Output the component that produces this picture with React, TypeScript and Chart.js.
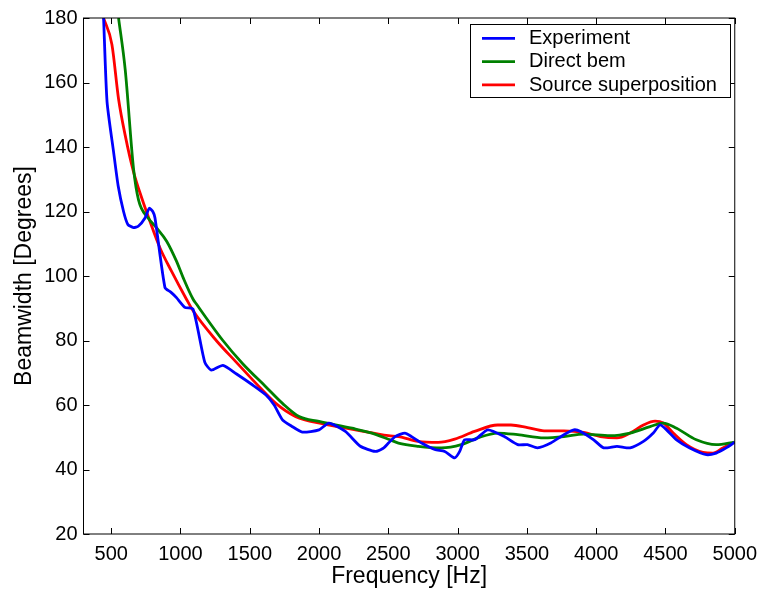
import React, { useEffect, useRef } from "react";
import { Chart, registerables } from "chart.js";

Chart.register(...registerables);

const xTicks = [500, 1000, 1500, 2000, 2500, 3000, 3500, 4000, 4500, 5000];
const yTicks = [20, 40, 60, 80, 100, 120, 140, 160, 180];

const expFreq = [445, 470, 517, 550, 589, 620, 661, 697, 744, 775, 800, 816, 888, 930, 971, 1031, 1091, 1175, 1222, 1306, 1402, 1521, 1617, 1676, 1736, 1800, 1879, 2000, 2071, 2190, 2298, 2405, 2460, 2501, 2549, 2620, 2668, 2740, 2835, 2907, 2979, 3015, 3050, 3122, 3218, 3337, 3433, 3504, 3576, 3672, 3767, 3839, 3887, 3982, 4054, 4150, 4245, 4341, 4412, 4460, 4508, 4580, 4675, 4795, 4866, 4938, 5000];
const expValues = [180, 154, 138.5, 128, 120, 116, 115, 115.5, 118, 121, 120, 118, 96.4, 95, 93.3, 90.3, 89.7, 73.3, 70.8, 72.3, 69.7, 66.2, 63.1, 60, 55.4, 53.5, 51.6, 52.3, 54.4, 51.8, 47.2, 45.6, 46.5, 48.2, 50.2, 51.3, 50.2, 48.2, 46.2, 45.6, 43.6, 45.6, 49.2, 49.2, 52.3, 50.2, 47.7, 47.7, 46.7, 48.2, 50.8, 52.3, 51.8, 49.2, 46.7, 47.2, 46.7, 48.7, 51.3, 53.8, 52.3, 49.2, 46.7, 44.6, 45.1, 46.7, 48.5];

const bemFreq = [553, 601, 661, 697, 768, 828, 900, 971, 1019, 1091, 1115, 1306, 1449, 1617, 1736, 1856, 2000, 2238, 2381, 2501, 2573, 2716, 2883, 3026, 3146, 3289, 3433, 3624, 3767, 3910, 4102, 4245, 4389, 4484, 4580, 4723, 4866, 5000];
const bemValues = [180, 164, 133.3, 123.6, 117.9, 114.9, 110.8, 104.6, 99.5, 92.8, 91.3, 80, 72.8, 65.6, 60.5, 56.4, 54.9, 52.8, 51.3, 49.4, 48.2, 47.2, 46.7, 47.7, 49.8, 51.3, 50.8, 49.8, 50.2, 51, 50.5, 51.3, 53.3, 54.4, 52.8, 49.2, 47.7, 48.5];

const ssFreq = [445, 505, 553, 601, 661, 721, 780, 852, 935, 1043, 1091, 1258, 1402, 1545, 1688, 1832, 2023, 2262, 2501, 2573, 2716, 2859, 2979, 3122, 3289, 3385, 3504, 3624, 3767, 3910, 4030, 4150, 4245, 4341, 4425, 4484, 4556, 4651, 4771, 4843, 4914, 5000];
const ssValues = [180, 171.8, 154.9, 143.6, 132.3, 124.1, 116.9, 108.7, 101.5, 92.8, 89.2, 80, 73.3, 66.7, 60.5, 56.4, 54.2, 52.3, 50.5, 50.2, 48.7, 48.4, 49.4, 51.8, 53.8, 53.8, 53, 52, 52, 51.5, 50.2, 49.8, 51.3, 53.8, 55, 54.4, 51.3, 47.7, 45.3, 45.1, 46.7, 48.5];

const seriesLabels = ["Experiment", "Direct bem", "Source superposition"];
const seriesColors = ["#0000ff", "#008000", "#ff0000"];

const FONT = "'Liberation Sans', Arial, sans-serif";

const toPoints = (xs: number[], ys: number[]) => xs.map((x, i) => ({ x, y: ys[i] }));

const framePlugin = {
  id: "frame",
  afterDraw(chart: any) {
    const { ctx, chartArea: a, scales } = chart;
    const len = 6;
    ctx.save();
    ctx.strokeStyle = "#000";
    ctx.lineWidth = 1;
    ctx.strokeRect(a.left, a.top, a.right - a.left, a.bottom - a.top);
    ctx.beginPath();
    xTicks.forEach((v) => {
      const px = Math.round(scales.x.getPixelForValue(v)) + 0.5;
      ctx.moveTo(px, a.bottom);
      ctx.lineTo(px, a.bottom - len);
      ctx.moveTo(px, a.top);
      ctx.lineTo(px, a.top + len);
    });
    yTicks.forEach((v) => {
      const py = Math.round(scales.y.getPixelForValue(v)) + 0.5;
      ctx.moveTo(a.left, py);
      ctx.lineTo(a.left + len, py);
      ctx.moveTo(a.right, py);
      ctx.lineTo(a.right - len, py);
    });
    ctx.stroke();

    // legend
    const bx = 470, by = 24, bw = 260, bh = 73;
    ctx.fillStyle = "#fff";
    ctx.fillRect(bx, by, bw, bh);
    ctx.strokeRect(bx + 0.5, by + 0.5, bw, bh);
    ctx.font = `20px ${FONT}`;
    ctx.textBaseline = "alphabetic";
    chart.data.datasets.forEach((ds: any, i: number) => {
      const y = by + 14.3 + i * 23.3;
      ctx.strokeStyle = ds.borderColor;
      ctx.lineWidth = 2.8;
      ctx.beginPath();
      ctx.moveTo(482, y);
      ctx.lineTo(515, y);
      ctx.stroke();
      ctx.fillStyle = "#000";
      ctx.fillText(ds.label, 529, by + 20 + i * 23.3);
    });
    ctx.restore();
  },
};

export default function App() {
  const ref = useRef<HTMLCanvasElement>(null);
  useEffect(() => {
    document.body.style.margin = "0";
    const datasets = [
      { label: seriesLabels[0], data: toPoints(expFreq, expValues), borderColor: seriesColors[0], tension: 0.2 },
      { label: seriesLabels[1], data: toPoints(bemFreq, bemValues), borderColor: seriesColors[1], tension: 0.4, cubicInterpolationMode: "monotone" },
      { label: seriesLabels[2], data: toPoints(ssFreq, ssValues), borderColor: seriesColors[2], tension: 0.4, cubicInterpolationMode: "monotone" },
    ].map((d) => ({ ...d, borderWidth: 2.8, pointRadius: 0, fill: false, backgroundColor: d.borderColor }));
    const chart = new Chart(ref.current!, {
      type: "line",
      data: { datasets: datasets as any },
      plugins: [framePlugin],
      options: {
        animation: false,
        responsive: false,
        layout: { padding: { top: 15, right: 27, left: 0, bottom: 0 } },
        plugins: { legend: { display: false }, tooltip: { enabled: false } },
        scales: {
          x: {
            type: "linear",
            min: 300,
            max: 5000,
            grid: { display: false, drawTicks: false },
            border: { display: false },
            afterBuildTicks: (s: any) => { s.ticks = xTicks.map((v) => ({ value: v })); },
            afterFit: (s: any) => { s.height = 56; },
            ticks: { color: "#000", padding: 8, font: { family: FONT, size: 20 }, maxRotation: 0, autoSkip: false, callback: (v: any) => String(v) },
            title: { display: true, text: "Frequency [Hz]", color: "#000", font: { family: FONT, size: 23 }, padding: { top: 0, bottom: 0 } },
          },
          y: {
            type: "linear",
            min: 20,
            max: 180,
            grid: { display: false, drawTicks: false },
            border: { display: false },
            afterBuildTicks: (s: any) => { s.ticks = yTicks.map((v) => ({ value: v })); },
            afterFit: (s: any) => { s.width = 83.5; },
            ticks: { color: "#000", padding: 6, font: { family: FONT, size: 20 }, autoSkip: false, callback: (v: any) => String(v) },
            title: { display: true, text: "Beamwidth [Degrees]", color: "#000", font: { family: FONT, size: 23 }, padding: { top: 11.2, bottom: 0 } },
          },
        },
      },
    });
    return () => chart.destroy();
  }, []);
  return <canvas ref={ref} width={765} height={590} style={{ display: "block" }} />;
}
